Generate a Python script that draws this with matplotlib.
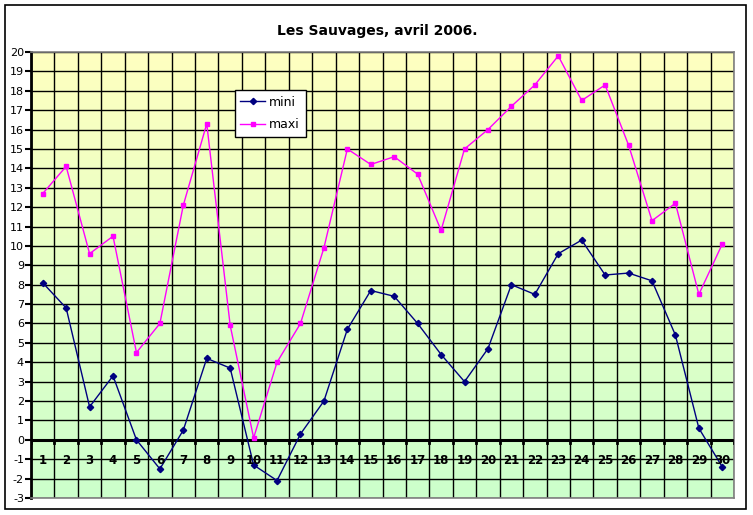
import matplotlib
matplotlib.use("Agg")
import matplotlib.pyplot as plt
import numpy as np
from matplotlib.colors import LinearSegmentedColormap
from matplotlib.patches import Rectangle

# ── data ────────────────────────────────────────────────────────────────────
days = list(range(1, 31))
mini = [8.1, 6.8, 1.7, 3.3, 0.0, -1.5, 0.5, 4.2, 3.7, -1.3,
        -2.1, 0.3, 2.0, 5.7, 7.7, 7.4, 6.0, 4.4, 3.0, 4.7,
        8.0, 7.5, 9.6, 10.3, 8.5, 8.6, 8.2, 5.4, 0.6, -1.4]
maxi = [12.7, 14.1, 9.6, 10.5, 4.5, 6.0, 12.1, 16.3, 5.9, 0.1,
        4.0, 6.0, 9.9, 15.0, 14.2, 14.6, 13.7, 10.8, 15.0, 16.0,
        17.2, 18.3, 19.8, 17.5, 18.3, 15.2, 11.3, 12.2, 7.5, 10.1]
y_ticks = list(range(-3, 21))

fig = plt.figure(figsize=(7.53, 5.15), dpi=100)
fig.patch.set_facecolor("white")
fig.patches.append(Rectangle((5 / 753, 6 / 515), 741 / 753, 504 / 515,
                             transform=fig.transFigure, fill=False,
                             edgecolor="black", linewidth=1.2))

ax = fig.add_axes([31 / 753, 17 / 515, 703 / 753, 446 / 515])
ax.set_xlim(0.5, 30.5)
ax.set_ylim(-3, 20)

# gradient background yellow -> green
cmap = LinearSegmentedColormap.from_list("bg", ["#ccffcc", "#ffffc0"])
grad = np.linspace(0, 1, 256).reshape(-1, 1)
ax.imshow(grad, cmap=cmap, origin="lower", aspect="auto",
          extent=(0.5, 30.5, -3, 20), zorder=0)

# grid
for y in y_ticks:
    ax.axhline(y, color="black", linewidth=1.0, zorder=1)
for x in np.arange(0.5, 31, 1.0):
    ax.axvline(x, color="black", linewidth=1.0, zorder=1)
ax.axhline(0, color="black", linewidth=2.2, zorder=2)

ax.plot(days, mini, color="#000080", marker="D", markersize=3.2,
        linewidth=1.0, label="mini", zorder=4)
ax.plot(days, maxi, color="#ff00ff", marker="s", markersize=3.5,
        linewidth=1.0, label="maxi", zorder=4)

for s in ["top", "right", "bottom"]:
    ax.spines[s].set_color("#808080")
    ax.spines[s].set_linewidth(1.2)
ax.spines["left"].set_color("black")
ax.spines["left"].set_linewidth(2.0)

ax.set_yticks(y_ticks)
ax.set_yticklabels([str(v) for v in y_ticks], fontsize=8, family="Arial")
ax.tick_params(axis="y", length=4, width=1.5, pad=1)

ax.set_xticks([])
# day labels and small ticks under the zero line
for d in days:
    ax.text(d, -1.05, str(d), ha="center", va="center", fontsize=8.5,
            fontweight="bold", family="Arial", zorder=5)
for x in np.arange(0.5, 31, 1.0):
    ax.plot([x, x], [0, -0.15], color="black", linewidth=2.0, zorder=3)

leg = ax.legend(loc="upper left", bbox_to_anchor=(0.29, 0.915),
                fontsize=9, frameon=True, fancybox=False, handlelength=2.0,
                borderpad=0.45, labelspacing=0.75, handletextpad=0.3,
                borderaxespad=0)
leg.get_frame().set_edgecolor("black")
leg.get_frame().set_linewidth(1.0)
leg.get_frame().set_facecolor("white")
leg.get_frame().set_alpha(1)

fig.text(377 / 753, 1 - 31 / 515, "Les Sauvages, avril 2006.", ha="center",
         va="center", fontsize=10, fontweight="bold", family="Arial")

fig.savefig("out.png", dpi=100)
